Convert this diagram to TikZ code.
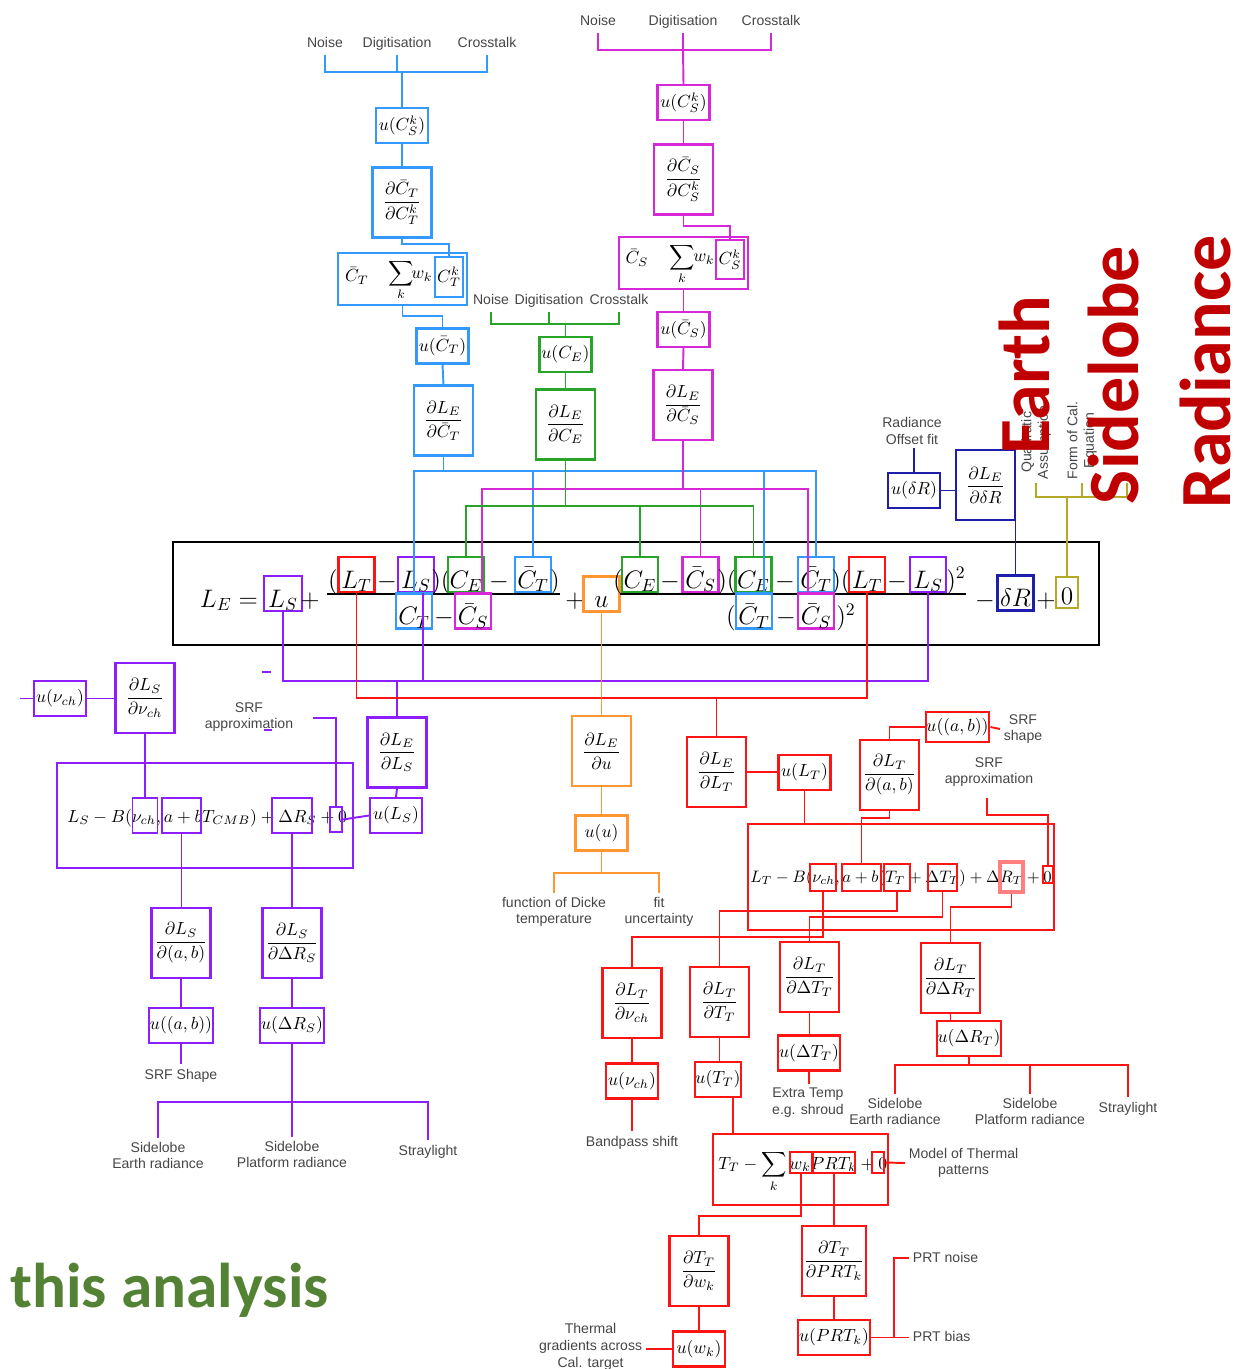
\documentclass[tikz,border=0pt]{standalone}
\usepackage{amsmath}
\usepackage{fontspec}
\newfontfamily\lblfont{Liberation Sans}
\newfontfamily\bigfont{Carlito}
\definecolor{cblue}{RGB}{51,153,255}
\definecolor{cmag}{RGB}{214,40,214}
\definecolor{cgreen}{RGB}{40,165,40}
\definecolor{cpurple}{RGB}{140,30,255}
\definecolor{cred}{RGB}{255,20,20}
\definecolor{corange}{RGB}{255,150,50}
\definecolor{cnavy}{RGB}{30,30,170}
\definecolor{colive}{RGB}{180,170,40}
\definecolor{cbig}{RGB}{192,0,0}
\definecolor{cthis}{RGB}{84,130,53}
\definecolor{clbl}{RGB}{70,70,70}
\begin{document}
\begin{tikzpicture}[x=0.02cm, y=-0.02cm,
	lbl/.style={font=\lblfont\fontsize{8}{9.5}\selectfont, text=clbl, align=center, inner sep=2pt},
	tlbl/.style={lbl, text height=6.5pt, text depth=1.9pt},
	dbox/.style={draw=#1, line width=1.2pt, minimum width=1.18cm, minimum height=1.4cm, inner sep=1pt},
	ubox/.style={draw=#1, line width=1.2pt, minimum width=1.04cm, minimum height=0.7cm, inner sep=0.5pt},
	mbox/.style={draw=#1, line width=1.6pt, minimum width=0.72cm, minimum height=0.7cm, inner sep=0pt, text height=0.62cm, text depth=0.08cm, font=\Large},
	mop/.style={font=\Large, inner sep=0pt, anchor=base},
	obox/.style={draw=#1, line width=1.1pt, inner sep=0pt},
	wire/.style={draw=#1, line width=1.1pt},
	bigtxt/.style={font=\bigfont\bfseries\fontsize{41}{48}\selectfont, text=cbig, rotate=90}]
	\useasboundingbox (0,0) rectangle (1242,1369);

	\node[tlbl, anchor=south] (bNoise) at (325,55) {Noise};
	\node[tlbl, anchor=south] (bDig) at (397,55) {Digitisation};
	\node[tlbl, anchor=south] (bCross) at (487,55) {Crosstalk};
	\coordinate (bBus) at (402,72);
	\node[ubox=cblue] (uCkb) at (402,125.5) {$u(C_S^k)$};
	\node[dbox=cblue] (dCTk) at (402,202.5) {$\dfrac{\partial\bar C_T}{\partial C_T^k}$};
	\node[draw=cblue, line width=1.5pt, minimum width=2.58cm, minimum height=1.04cm] (sumT) at (402.5,279) {};
	\node[inner sep=0pt] (sCTb) at (357,276) {$\bar C_T$};
	\node[inner sep=0pt] (sSigT) at (401,280) {$\displaystyle\sum_k$};
	\node[inner sep=0pt] (swT) at (422,276) {$w_k$};
	\node[obox=cblue, minimum width=0.56cm, minimum height=0.8cm] (sCTk) at (449,277) {$C_T^k$};
	\node[ubox=cblue] (uCTb) at (442.5,346) {$u(\bar C_T)$};
	\node[dbox=cblue] (dLECT) at (443.5,420.5) {$\dfrac{\partial L_E}{\partial\bar C_T}$};
	\draw[wire=cblue] (bNoise.south) |- (bCross.south |- bBus) -- (bCross.south);
	\draw[wire=cblue] (bDig.south) -- (bDig.south |- bBus);
	\draw[wire=cblue] (bBus) -- (uCkb.north);
	\draw[wire=cblue] (uCkb.south) -- (dCTk.north);
	\draw[wire=cblue] (dCTk.south) -- ++(0,5) -| (sCTk.north);
	\draw[wire=cblue] (sumT.south) -- ++(0,10) -| (uCTb.north);
	\draw[wire=cblue] (uCTb.south) -- (dLECT.north);

	\node[tlbl, anchor=south] (mNoise) at (598,33) {Noise};
	\node[tlbl, anchor=south] (mDig) at (683,33) {Digitisation};
	\node[tlbl, anchor=south] (mCross) at (771,33) {Crosstalk};
	\coordinate (mBus) at (683,50);
	\node[ubox=cmag] (uCks) at (683.5,102.5) {$u(C_S^k)$};
	\node[dbox=cmag] (dCSk) at (683.5,179.5) {$\dfrac{\partial\bar C_S}{\partial C_S^k}$};
	\node[draw=cmag, line width=1.2pt, minimum width=2.58cm, minimum height=1.04cm] (sumS) at (683.5,263) {};
	\node[inner sep=0pt] (sCSb) at (637,258) {$\bar C_S$};
	\node[inner sep=0pt] (sSigS) at (682,264) {$\displaystyle\sum_k$};
	\node[inner sep=0pt] (swS) at (704,259) {$w_k$};
	\node[obox=cmag, minimum width=0.56cm, minimum height=0.78cm] (sCSk) at (730,259.5) {$C_S^k$};
	\node[ubox=cmag] (uCSb) at (683.5,329.5) {$u(\bar C_S)$};
	\node[dbox=cmag] (dLECS) at (683,405) {$\dfrac{\partial L_E}{\partial\bar C_S}$};
	\draw[wire=cmag] (mNoise.south) |- (mCross.south |- mBus) -- (mCross.south);
	\draw[wire=cmag] (mDig.south) -- (mDig.south |- mBus);
	\draw[wire=cmag] (mBus) -- (uCks.north);
	\draw[wire=cmag] (uCks.south) -- (dCSk.north);
	\draw[wire=cmag] (dCSk.south) -- ++(0,10) -| (sCSk.north);
	\draw[wire=cmag] (sumS.south) -- (uCSb.north);
	\draw[wire=cmag] (uCSb.south) -- (dLECS.north);

	\node[tlbl, anchor=south] (gNoise) at (491,312) {Noise};
	\node[tlbl, anchor=south] (gDig) at (549,312) {Digitisation};
	\node[tlbl, anchor=south] (gCross) at (619,312) {Crosstalk};
	\coordinate (gBus) at (565.5,324);
	\node[ubox=cgreen] (uCE) at (565.5,354.5) {$u(C_E)$};
	\node[dbox=cgreen] (dLECE) at (565.5,424.5) {$\dfrac{\partial L_E}{\partial C_E}$};
	\draw[wire=cgreen] (gNoise.south) |- (gCross.south |- gBus) -- (gCross.south);
	\draw[wire=cgreen] (gDig.south) -- (gDig.south |- gBus);
	\draw[wire=cgreen] (gBus) -- (uCE.north);
	\draw[wire=cgreen] (uCE.south) -- (dLECE.north);

	\draw[line width=1.1pt] (173,542) rectangle (1099,645);
	\node[mop] (oLE) at (229,607) {$L_E =$};
	\node[mbox=cpurple, minimum width=0.76cm] (eLS0) at (283,593.5) {$L_S$};
	\node[mop] (o1) at (310,607) {$+$};
	\node[mop] (o2) at (333,588) {$($};
	\node[mbox=cred] (eLT) at (356.5,574.5) {$L_T$};
	\node[mop] (o3) at (387,588) {$-$};
	\node[mbox=cpurple] (eLS) at (416,574.5) {$L_S$};
	\node[mop] (o4) at (441,588) {$)($};
	\node[mbox=cgreen] (eCE1) at (466,574.5) {$C_E$};
	\node[mop] (o5) at (499,588) {$-$};
	\node[mbox=cblue] (eCTb) at (533,574.5) {$\bar C_T$};
	\node[mop] (o6) at (555,588) {$)$};
	\draw[line width=0.7pt] (327,594) -- (560,594);
	\node[mbox=cblue] (eCTd) at (414,611) {$C_T$};
	\node[mop] (o7) at (444,624.5) {$-$};
	\node[mbox=cmag] (eCSbd) at (473,611) {$\bar C_S$};
	\node[mop] (o8) at (575,607) {$+$};
	\node[mbox=corange] (eu) at (601.5,594) {$u$};
	\node[mop] (o9) at (618,588) {$($};
	\node[mbox=cgreen] (eCE2) at (640,574.5) {$C_E$};
	\node[mop] (o10) at (670,588) {$-$};
	\node[mbox=cmag] (eCSb) at (700.5,574.5) {$\bar C_S$};
	\node[mop] (o11) at (727,588) {$)($};
	\node[mbox=cgreen] (eCE3) at (753.5,574.5) {$C_E$};
	\node[mop] (o12) at (785,588) {$-$};
	\node[mbox=cblue] (eCTb2) at (816,574.5) {$\bar C_T$};
	\node[mop] (o13) at (841,588) {$)($};
	\node[mbox=cred] (eLT2) at (867,574.5) {$L_T$};
	\node[mop] (o14) at (897,588) {$-$};
	\node[mbox=cpurple] (eLS2) at (928,574.5) {$L_S$};
	\node[mop] (o15) at (956,588) {$)^2$};
	\draw[line width=0.7pt] (620,594) -- (966,594);
	\node[mop] (o16) at (731,624.5) {$($};
	\node[mbox=cblue] (eCTbd) at (754,611) {$\bar C_T$};
	\node[mop] (o17) at (786,624.5) {$-$};
	\node[mbox=cmag] (eCSbd2) at (816,611) {$\bar C_S$};
	\node[mop] (o18) at (846,624.5) {$)^2$};
	\node[mop] (o19) at (985,607) {$-$};
	\node[mbox=cnavy] (edR) at (1015.5,593) {$\delta R$};
	\node[mop] (o20) at (1046,607) {$+$};
	\node[mbox=colive, minimum width=0.44cm, minimum height=0.62cm, text height=0.54cm] (e0) at (1067,592.5) {$0$};

	\coordinate (yB) at (0,471);
	\coordinate (yM) at (0,489);
	\coordinate (yG) at (0,506);
	\draw[wire=cblue] (dLECT.south) -- (dLECT.south |- yB);
	\draw[wire=cblue] (eCTd.north) |- (eCTb2.north |- yB) -- (eCTb2.north);
	\draw[wire=cblue] (eCTb.north) -- (eCTb.north |- yB);
	\draw[wire=cblue] ([xshift=0.2cm]eCTbd.north) -- ([xshift=0.2cm]eCTbd.north |- yB);
	\draw[wire=cmag] (dLECS.south) -- (dLECS.south |- yM);
	\draw[wire=cmag] ([xshift=0.18cm]eCSbd.north) |- ([xshift=-0.16cm]eCSbd2.north |- yM) -- ([xshift=-0.16cm]eCSbd2.north);
	\draw[wire=cmag] (eCSb.north) -- (eCSb.north |- yM);
	\draw[wire=cgreen] (dLECE.south) -- (dLECE.south |- yG);
	\draw[wire=cgreen] (eCE1.north) |- (eCE3.north |- yG) -- (eCE3.north);
	\draw[wire=cgreen] (eCE2.north) -- (eCE2.north |- yG);

	\node[lbl, anchor=south] (lRad) at (912,448) {Radiance\\Offset fit};
	\node[ubox=cnavy] (udR) at (914,490.5) {$u(\delta R)$};
	\node[dbox=cnavy] (dLEdR) at (985.5,485) {$\dfrac{\partial L_E}{\partial\delta R}$};
	\draw[wire=cnavy] (lRad.south -| udR.north) -- (udR.north);
	\draw[wire=cnavy] (udR.east) -- (udR.east -| dLEdR.west);
	\draw[wire=cnavy] (edR.north |- dLEdR.south) -- (edR.north);

	\node[lbl, rotate=90, anchor=west] (lQuad) at (1036,483) {Quadratic\\Assumption};
	\node[lbl, rotate=90, anchor=west] (lForm) at (1082,483) {Form of Cal.\\Equation};
	\coordinate (yOl) at (0,497);
	\coordinate (olEnd) at (1127,483);
	\draw[wire=colive] (lQuad.west) |- (olEnd |- yOl) -- (olEnd);
	\draw[wire=colive] (lForm.west) -- (lForm.west |- yOl);
	\draw[wire=colive] (e0.north) -- (e0.north |- yOl);

	\coordinate (yP) at (0,681);
	\draw[wire=cpurple] (eLS0.south) |- (eLS2.south |- yP) -- (eLS2.south);
	\draw[wire=cpurple] ([xshift=0.14cm]eLS.south) -- ([xshift=0.14cm]eLS.south |- yP);
	\draw[wire=cpurple] (262,672) -- (271,672);
	\draw[wire=cpurple] (264,730) -- (272,730);
	\node[dbox=cpurple] (dLELS) at (397,752.5) {$\dfrac{\partial L_E}{\partial L_S}$};
	\node[ubox=cpurple] (uLS) at (396,815.5) {$u(L_S)$};
	\draw[wire=cpurple] (dLELS.north |- yP) -- (dLELS.north);
	\draw[wire=cpurple] (dLELS.south) -- (uLS.north);
	\node[draw=cpurple, line width=1.2pt, minimum width=5.92cm, minimum height=2.1cm] (eqS) at (205,815.5) {};
	\node[anchor=base west, inner sep=0pt] (eqStxt) at (67,822) {$L_S - B(\nu_{ch}, a + bT_{CMB}) + \Delta R_S + 0$};
	\node[obox=cpurple, minimum width=0.5cm, minimum height=0.7cm] (snu) at (145,815.5) {};
	\node[obox=cpurple, minimum width=0.78cm, minimum height=0.7cm] (sab) at (181.5,815.5) {};
	\node[obox=cpurple, minimum width=0.8cm, minimum height=0.7cm] (sDR) at (292,815.5) {};
	\node[obox=cpurple, minimum width=0.24cm, minimum height=0.5cm] (sZ) at (336,819.5) {};
	\draw[wire=cpurple] (sZ.east) -- (uLS.west);
	\node[ubox=cpurple] (unuS) at (60,698.5) {$u(\nu_{ch})$};
	\node[dbox=cpurple] (dLSnu) at (145,698) {$\dfrac{\partial L_S}{\partial\nu_{ch}}$};
	\coordinate (nuEnd) at (20,698.5);
	\draw[wire=cpurple] (nuEnd) -- (unuS.west);
	\draw[wire=cpurple] (unuS.east) -- (unuS.east -| dLSnu.west);
	\draw[wire=cpurple] (dLSnu.south) -- (snu.north);
	\node[lbl] (lSRFaS) at (249,717) {SRF\\approximation};
	\coordinate (srfS) at (313,718);
	\draw[wire=cpurple] (srfS) -| (sZ.north);
	\node[dbox=cpurple] (dLSab) at (181,943) {$\dfrac{\partial L_S}{\partial(a,b)}$};
	\node[dbox=cpurple] (dLSDR) at (292,943) {$\dfrac{\partial L_S}{\partial\Delta R_S}$};
	\node[ubox=cpurple] (uabS) at (181,1025.5) {$u((a,b))$};
	\node[ubox=cpurple] (uDRS) at (292,1025.5) {$u(\Delta R_S)$};
	\draw[wire=cpurple] (sab.south) -- (sab.south |- dLSab.north);
	\draw[wire=cpurple] (sDR.south) -- (dLSDR.north);
	\draw[wire=cpurple] (dLSab.south) -- (uabS.north);
	\draw[wire=cpurple] (dLSDR.south) -- (uDRS.north);
	\node[tlbl, anchor=north] (lSRFS) at (181,1064) {SRF Shape};
	\draw[wire=cpurple] (uabS.south) -- (lSRFS.north);
	\coordinate (yPb) at (0,1102);
	\node[lbl, anchor=north] (lSEr) at (158,1138) {Sidelobe\\Earth radiance};
	\node[lbl, anchor=north] (lSPr) at (292,1137) {Sidelobe\\Platform radiance};
	\node[tlbl, anchor=north] (lSSt) at (428,1140) {Straylight};
	\draw[wire=cpurple] (uDRS.south) -- (lSPr.north);
	\draw[wire=cpurple] (lSEr.north) |- (lSSt.north |- yPb) -- (lSSt.north);

	\coordinate (yR) at (0,698);
	\draw[wire=cred] (eLT.south) |- (eLT2.south |- yR) -- (eLT2.south);
	\node[dbox=cred] (dLELT) at (716.5,772) {$\dfrac{\partial L_E}{\partial L_T}$};
	\node[ubox=cred] (uLT) at (804.5,772.5) {$u(L_T)$};
	\draw[wire=cred] (dLELT.north |- yR) -- (dLELT.north);
	\draw[wire=cred] (dLELT.east) -- (dLELT.east -| uLT.west);
	\node[draw=cred, line width=1.2pt, minimum width=6.12cm, minimum height=2.12cm] (eqT) at (901,877) {};
	\node[anchor=base west, inner sep=0pt, scale=0.945] (eqTtxt) at (750,882) {$L_T - B(\nu_{ch}, a + b(T_T + \Delta T_T) + \Delta R_T + 0$};
	\node[obox=cred, minimum width=0.52cm, minimum height=0.54cm] (tnu) at (823,877.5) {};
	\node[obox=cred, minimum width=0.78cm, minimum height=0.54cm] (tab) at (861.5,877.5) {};
	\node[obox=cred, minimum width=0.52cm, minimum height=0.54cm] (tTT) at (897,877.5) {};
	\node[obox=cred, minimum width=0.58cm, minimum height=0.54cm] (tDT) at (942.5,877.5) {};
	\node[obox=cred!55, line width=1.8pt, minimum width=0.46cm, minimum height=0.6cm] (tDR) at (1011.5,877) {};
	\node[obox=cred, minimum width=0.2cm, minimum height=0.34cm] (tZ) at (1048,874.5) {};
	\draw[wire=cred] (uLT.south) -- (uLT.south |- eqT.north);
	\node[dbox=cred] (dLTab) at (889.5,775) {$\dfrac{\partial L_T}{\partial(a,b)}$};
	\node[ubox=cred, minimum height=0.6cm] (uabT) at (957.5,727) {$u((a,b))$};
	\node[lbl, anchor=west] (lSRFsh) at (1000,729) {SRF\\shape};
	\node[lbl] (lSRFaT) at (989,772) {SRF\\approximation};
	\coordinate (srfT) at (987,798);
	\draw[wire=cred] (dLTab.south) -- ++(0,7) -| (tab.north);
	\draw[wire=cred] (dLTab.north) |- (uabT.west);
	\draw[wire=cred] (uabT.east) -- (lSRFsh.west);
	\draw[wire=cred] (srfT) -- ++(0,17) -| (tZ.north);

	\node[dbox=cred] (dLTnu) at (632,1003) {$\dfrac{\partial L_T}{\partial\nu_{ch}}$};
	\node[ubox=cred] (uTnu) at (632,1081) {$u(\nu_{ch})$};
	\node[tlbl, anchor=north] (lBand) at (632,1131) {Bandpass shift};
	\node[dbox=cred] (dLTTT) at (719.5,1002) {$\dfrac{\partial L_T}{\partial T_T}$};
	\node[ubox=cred, minimum width=0.92cm] (uTT) at (718,1079.5) {$u(T_T)$};
	\node[dbox=cred] (dLTDT) at (809.5,977) {$\dfrac{\partial L_T}{\partial\Delta T_T}$};
	\node[ubox=cred] (uDT) at (809,1053) {$u(\Delta T_T)$};
	\node[lbl, anchor=north] (lExtra) at (808,1084) {Extra Temp\\e.g. shroud};
	\node[dbox=cred] (dLTDR) at (950.5,978) {$\dfrac{\partial L_T}{\partial\Delta R_T}$};
	\node[ubox=cred] (uDRT) at (969,1038.5) {$u(\Delta R_T)$};
	\draw[wire=cred] (tnu.south) -- ++(0,45) -| (dLTnu.north);
	\draw[wire=cred] (tTT.south) -- ++(0,19) -| (dLTTT.north);
	\draw[wire=cred] (tDT.south) -- ++(0,25) -| (dLTDT.north);
	\draw[wire=cred] (tDR.south) -- ++(0,13) -| (dLTDR.north);
	\draw[wire=cred] (dLTnu.south) -- (uTnu.north);
	\draw[wire=cred] (uTnu.south) -- (lBand.north);
	\draw[wire=cred] (dLTTT.south) -- (dLTTT.south |- uTT.north);
	\draw[wire=cred] (dLTDT.south) -- (dLTDT.south |- uDT.north);
	\draw[wire=cred] (uDT.south) -- (uDT.south |- lExtra.north);
	\draw[wire=cred] (dLTDR.south) -- (dLTDR.south |- uDRT.north);
	\coordinate (yRb) at (0,1065);
	\node[lbl, anchor=north] (lTEr) at (895,1094) {Sidelobe\\Earth radiance};
	\node[lbl, anchor=north] (lTPr) at (1030,1094) {Sidelobe\\Platform radiance};
	\node[tlbl, anchor=north] (lTSt) at (1128,1097) {Straylight};
	\draw[wire=cred] (uDRT.south) -- (uDRT.south |- yRb);
	\draw[wire=cred] (lTEr.north) |- (lTSt.north |- yRb) -- (lTSt.north);
	\draw[wire=cred] (lTPr.north) -- (lTPr.north |- yRb);

	\node[draw=cred, line width=1.2pt, minimum width=3.5cm, minimum height=1.42cm] (eqTT) at (800.5,1169.5) {};
	\node[anchor=base west, inner sep=0pt] (eqTTtxt) at (718,1169) {$T_T - \displaystyle\sum_k w_k PRT_k + 0$};
	\node[obox=cred, minimum width=0.44cm, minimum height=0.42cm] (tw) at (801,1162.5) {};
	\node[obox=cred, minimum width=0.84cm, minimum height=0.42cm] (tPRT) at (834,1162.5) {};
	\node[obox=cred, minimum width=0.24cm, minimum height=0.42cm] (tZT) at (878,1162.5) {};
	\draw[wire=cred] ([xshift=0.3cm]uTT.south) -- ([xshift=0.3cm]uTT.south |- eqTT.north);
	\node[lbl, anchor=west] (lModel) at (905,1163) {Model of Thermal\\patterns};
	\draw[wire=cred] (tZT.east) -- (lModel.west);
	\node[dbox=cred] (dTw) at (699,1271) {$\dfrac{\partial T_T}{\partial w_k}$};
	\node[dbox=cred] (dTPRT) at (834,1261) {$\dfrac{\partial T_T}{\partial PRT_k}$};
	\node[ubox=cred] (uw) at (699,1349) {$u(w_k)$};
	\node[ubox=cred] (uPRT) at (834,1337.5) {$u(PRT_k)$};
	\draw[wire=cred] (tw.south) -- ++(0,42) -| (dTw.north);
	\draw[wire=cred] (tPRT.south) -- (dTPRT.north);
	\draw[wire=cred] (dTw.south) -- (uw.north);
	\draw[wire=cred] (dTPRT.south) -- (uPRT.north);
	\node[lbl, anchor=east] (lTherm) at (646,1347) {Thermal\\gradients across\\Cal. target};
	\draw[wire=cred] (uw.west) -- (uw.west -| lTherm.east);
	\node[tlbl, anchor=west] (lPRTn) at (909,1258) {PRT noise};
	\node[tlbl, anchor=west] (lPRTb) at (909,1337.5) {PRT bias};
	\draw[wire=cred] (uPRT.east) -- (lPRTb.west);
	\draw[wire=cred] (uPRT.east) -- ++(23,0) |- (lPRTn.west);

	\node[dbox=corange] (dLEu) at (601.5,751) {$\dfrac{\partial L_E}{\partial u}$};
	\node[ubox=corange] (uu) at (601.5,833) {$u(u)$};
	\coordinate (yO) at (0,873);
	\node[lbl, anchor=north] (lDicke) at (554,893) {function of Dicke\\temperature};
	\node[lbl, anchor=north] (lFit) at (659,893) {fit\\uncertainty};
	\draw[wire=corange] (eu.south) -- (dLEu.north);
	\draw[wire=corange] (dLEu.south) -- (uu.north);
	\draw[wire=corange] (uu.south) -- (uu.south |- yO);
	\draw[wire=corange] (lDicke.north) |- (lFit.north |- yO) -- (lFit.north);

	\node[bigtxt] (tEarth) at (1024,375) {Earth};
	\node[bigtxt] (tSide) at (1113,375) {Sidelobe};
	\node[bigtxt] (tRad) at (1205,372) {Radiance};
	\node[font=\bigfont\bfseries\fontsize{36}{42}\selectfont, text=cthis, anchor=base west, inner sep=0pt] (tThis) at (10,1307) {this analysis};
\end{tikzpicture}
\end{document}
